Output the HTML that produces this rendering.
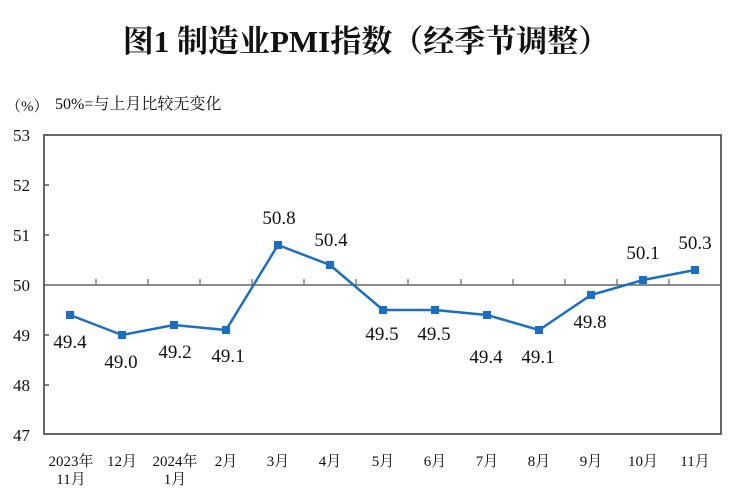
<!DOCTYPE html>
<html><head><meta charset="utf-8"><style>
body{margin:0;background:#fff}
svg{display:block}
.n{font-family:"Liberation Serif","Noto Serif CJK SC",serif;fill:#111}
</style></head><body>
<svg width="737" height="500" viewBox="0 0 737 500" xmlns="http://www.w3.org/2000/svg">
<text x="366" y="52" text-anchor="middle" font-size="31" font-weight="bold" font-family="'Liberation Serif','Noto Serif CJK SC',serif" fill="#111">图1  制造业PMI指数（经季节调整）</text>
<text x="6" y="111" font-size="15" class="n">（%）</text>
<text x="55" y="109" font-size="16" class="n">50%=与上月比较无变化</text>
<g class="n" font-size="17" text-anchor="end">
<text x="30" y="141">53</text><text x="30" y="191">52</text><text x="30" y="241">51</text>
<text x="30" y="291">50</text><text x="30" y="341">49</text><text x="30" y="391">48</text><text x="30" y="441">47</text>
</g>
<g stroke="#555" stroke-width="1.5">
<line x1="44" y1="185" x2="49" y2="185"/><line x1="44" y1="235" x2="49" y2="235"/>
<line x1="44" y1="335" x2="49" y2="335"/><line x1="44" y1="385" x2="49" y2="385"/>
<line x1="44" y1="285" x2="721" y2="285" stroke="#666"/>
</g>
<g stroke="#666" stroke-width="1.2">
<line x1="96" y1="285" x2="96" y2="279"/><line x1="148" y1="285" x2="148" y2="279"/>
<line x1="200" y1="285" x2="200" y2="279"/><line x1="252" y1="285" x2="252" y2="279"/>
<line x1="304" y1="285" x2="304" y2="279"/><line x1="356" y1="285" x2="356" y2="279"/>
<line x1="408" y1="285" x2="408" y2="279"/><line x1="461" y1="285" x2="461" y2="279"/>
<line x1="513" y1="285" x2="513" y2="279"/><line x1="565" y1="285" x2="565" y2="279"/>
<line x1="617" y1="285" x2="617" y2="279"/><line x1="669" y1="285" x2="669" y2="279"/>
</g>
<rect x="44" y="135" width="677" height="299" fill="none" stroke="#555" stroke-width="1.8"/>
<polyline fill="none" stroke="#1a6fc4" stroke-width="2.5" points="70,315 122,335 174,325 226,330 278,245 330,265 383,310 435,310 487,315 539,330 591,295 643,280 695,270"/>
<g fill="#1a6fc4">
<rect x="66" y="311" width="8" height="8"/><rect x="118" y="331" width="8" height="8"/><rect x="170" y="321" width="8" height="8"/>
<rect x="222" y="326" width="8" height="8"/><rect x="274" y="241" width="8" height="8"/><rect x="326" y="261" width="8" height="8"/>
<rect x="379" y="306" width="8" height="8"/><rect x="431" y="306" width="8" height="8"/><rect x="483" y="311" width="8" height="8"/>
<rect x="535" y="326" width="8" height="8"/><rect x="587" y="291" width="8" height="8"/><rect x="639" y="276" width="8" height="8"/>
<rect x="691" y="266" width="8" height="8"/>
</g>
<g class="n" font-size="19" text-anchor="middle">
<text x="70" y="348">49.4</text><text x="121" y="368">49.0</text><text x="175" y="358">49.2</text>
<text x="228" y="362">49.1</text><text x="279" y="224">50.8</text><text x="331" y="246">50.4</text>
<text x="382" y="340">49.5</text><text x="434" y="340">49.5</text><text x="486" y="363">49.4</text>
<text x="538" y="363">49.1</text><text x="590" y="328">49.8</text><text x="643" y="259">50.1</text>
<text x="695" y="249">50.3</text>
</g>
<g class="n" font-size="15" text-anchor="middle">
<text x="71" y="466">2023年</text><text x="71" y="484">11月</text>
<text x="122" y="466">12月</text>
<text x="175" y="466">2024年</text><text x="175" y="484">1月</text>
<text x="226" y="466">2月</text><text x="278" y="466">3月</text><text x="330" y="466">4月</text>
<text x="383" y="466">5月</text><text x="435" y="466">6月</text><text x="487" y="466">7月</text>
<text x="539" y="466">8月</text><text x="591" y="466">9月</text><text x="643" y="466">10月</text>
<text x="695" y="466">11月</text>
</g>
</svg>
</body></html>
